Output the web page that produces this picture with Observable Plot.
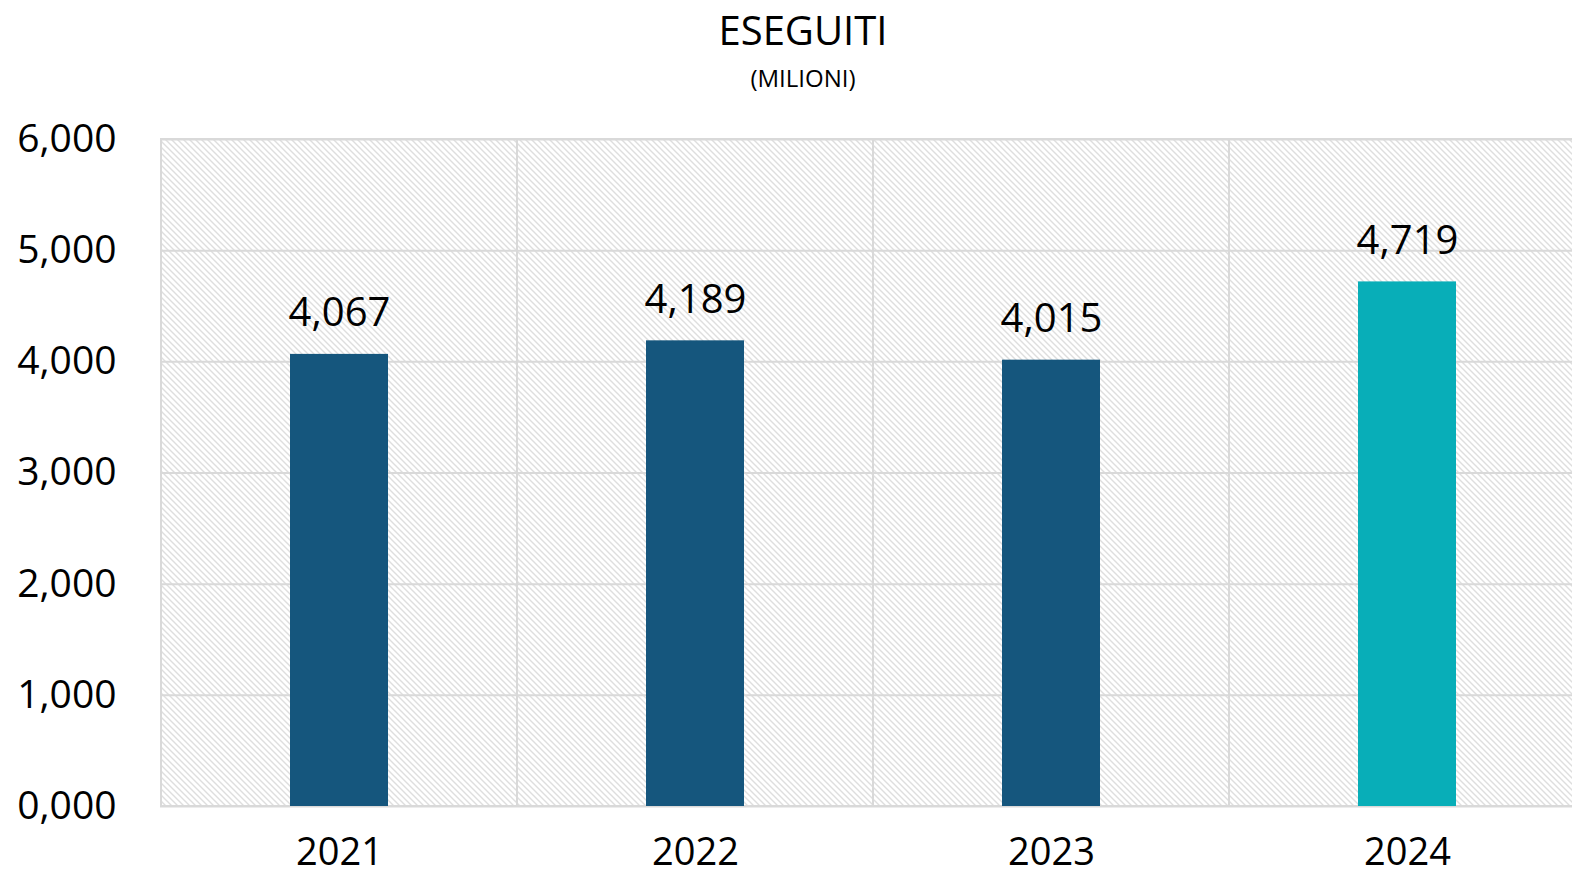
<!DOCTYPE html>
<html>
<head>
<meta charset="utf-8">
<script src="https://cdn.jsdelivr.net/npm/d3@7"></script>
<script src="https://cdn.jsdelivr.net/npm/@observablehq/plot@0.6"></script>
<style>
  html, body { margin: 0; padding: 0; background: #fff; }
  body { width: 1572px; height: 878px; overflow: hidden; font-family: "Open Sans", sans-serif; color: #000; }
  #head { width: 1572px; height: 100px; position: relative; }
  #title { position: absolute; left: 34px; right: 0; top: 7px; text-align: center; font-size: 40px; line-height: 46px; }
  #subtitle { position: absolute; left: 34px; right: 0; top: 63px; text-align: center; font-size: 24px; line-height: 30px; }
  #chart svg { display: block; }
</style>
</head>
<body>
<div id="head">
  <div id="title">ESEGUITI</div>
  <div id="subtitle">(MILIONI)</div>
</div>
<div id="chart"></div>
<script>
const years = ["2021", "2022", "2023", "2024"];
const values = [4067, 4189, 4015, 4719];
const barColors = ["#15567D", "#15567D", "#15567D", "#08AEB8"];
const yTicks = [0, 1000, 2000, 3000, 4000, 5000, 6000];
const yTickLabels = ["0,000", "1,000", "2,000", "3,000", "4,000", "5,000", "6,000"];

const data = years.map((y, i) => ({year: y, value: values[i], color: barColors[i]}));
const fmt = d3.format(",");

const chart = Plot.plot({
  width: 1572,
  height: 778,
  marginLeft: 160,
  marginRight: 0,
  marginTop: 39,
  marginBottom: 72,
  style: {fontFamily: "Open Sans, sans-serif", background: "transparent"},
  x: {type: "band", domain: years, range: [160, 1585], padding: 0, label: null},
  y: {domain: [0, 6000], label: null},
  marks: [
    Plot.rect(years, {x: d => d, y1: 0, y2: 6000, fill: "url(#hatch)", stroke: "#d9d9d9", strokeWidth: 2}),
    Plot.ruleY(yTicks, {y: d => d, stroke: "#d9d9d9", strokeWidth: 2}),
    Plot.barY(data, {x: "year", y: "value", fill: "color", insetLeft: 129, insetRight: 129}),
    Plot.text(data, {x: "year", y: "value", text: d => fmt(d.value), dy: -41, fontSize: 40, fill: "#000"}),
    Plot.axisY({ticks: yTicks, tickFormat: (d) => yTickLabels[yTicks.indexOf(d)], tickSize: 0, tickPadding: 44, fontSize: 39, fill: "#000"}),
    Plot.axisX({tickSize: 0, tickPadding: 32, fontSize: 38, fill: "#000"})
  ]
});

const ns = "http://www.w3.org/2000/svg";
const defs = document.createElementNS(ns, "defs");
defs.innerHTML = `<pattern id="hatch" patternUnits="userSpaceOnUse" width="6" height="6">
  <rect width="6" height="6" fill="#ffffff"/>
  <path d="M-1,-1 L7,7 M-1,5 L1,7 M5,-1 L7,1" stroke="#dedede" stroke-width="1.4"/>
</pattern>`;
chart.insertBefore(defs, chart.firstChild);
document.getElementById("chart").appendChild(chart);
</script>
</body>
</html>
